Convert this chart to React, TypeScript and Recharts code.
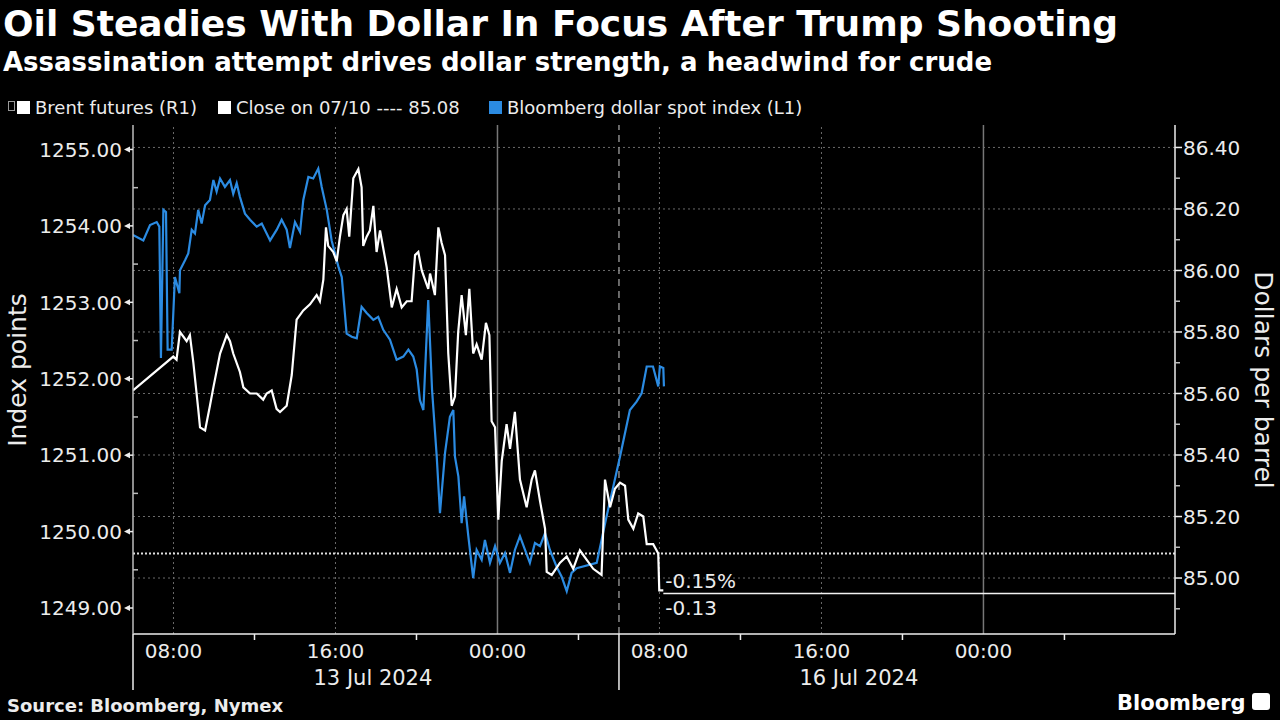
import React from "react";
import { LineChart, Line, XAxis, YAxis, ReferenceLine, ReferenceDot } from "recharts";

// hours counted from 06:00 on the first day shown
const dollarHours = [
  0, 0.51, 0.84, 1.17, 1.3, 1.38, 1.5, 1.63, 1.71, 1.91, 2.07, 2.29, 2.32, 2.57,
  2.73, 2.9, 3.06, 3.22, 3.39, 3.56, 3.8, 3.97, 4.13, 4.3, 4.54, 4.79, 4.95, 5.12,
  5.28, 5.53, 5.78, 6.11, 6.36, 6.77, 7.1, 7.34, 7.59, 7.75, 8.0, 8.25, 8.41,
  8.66, 8.9, 9.15, 9.32, 9.57, 9.81, 10.14, 10.31, 10.55, 10.8, 11.05, 11.29,
  11.54, 11.87, 12.11, 12.36, 12.69, 13.02, 13.35, 13.6, 13.84, 14.01, 14.17,
  14.34, 14.58, 14.77, 15.0, 15.16, 15.41, 15.65, 15.82, 15.9, 16.07, 16.23,
  16.35, 16.56, 16.8, 16.97, 17.22, 17.38, 17.63, 17.88, 18.12, 18.37, 18.62,
  18.86, 19.11, 19.36, 19.6, 19.85, 20.1, 20.35, 20.59, 20.92, 21.17, 21.42,
  21.66, 21.91, 22.9, 23.39, 24.05, 24.54, 24.87, 25.12, 25.37, 25.68, 25.94,
  26.02, 26.19, 26.22,
];
const dollarValues = [
  1253.88, 1253.81, 1254.01, 1254.05, 1253.99, 1252.27, 1254.21, 1254.18,
  1252.38, 1252.38, 1253.33, 1253.12, 1253.42, 1253.55, 1253.64, 1253.95,
  1253.9, 1254.21, 1254.03, 1254.27, 1254.34, 1254.6, 1254.45, 1254.62,
  1254.51, 1254.6, 1254.42, 1254.56, 1254.38, 1254.16, 1254.08, 1253.99,
  1254.03, 1253.81, 1253.95, 1254.08, 1253.95, 1253.71, 1254.05, 1253.92,
  1254.34, 1254.64, 1254.62, 1254.75, 1254.51, 1254.21, 1253.81, 1253.47,
  1253.33, 1252.59, 1252.55, 1252.53, 1252.94, 1252.86, 1252.77, 1252.81,
  1252.64, 1252.51, 1252.25, 1252.29, 1252.38, 1252.29, 1252.12, 1251.72,
  1251.59, 1253.03, 1251.85, 1250.98, 1250.24, 1251.03, 1251.5, 1251.59,
  1250.98, 1250.72, 1250.11, 1250.46, 1249.94, 1249.39, 1249.76, 1249.63,
  1249.89, 1249.59, 1249.81, 1249.59, 1249.72, 1249.46, 1249.76, 1249.94,
  1249.76, 1249.59, 1249.85, 1249.81, 1249.98, 1249.76, 1249.54, 1249.41,
  1249.22, 1249.46, 1249.52, 1249.59, 1250.2, 1250.98, 1251.59, 1251.7,
  1251.81, 1252.16, 1252.16, 1251.9, 1252.16, 1252.14, 1251.9,
];

const brentHours = [
  0, 1.99, 2.15, 2.32, 2.65, 2.81, 2.98, 3.22, 3.31, 3.56, 3.8, 3.97, 4.3, 4.63,
  4.79, 4.95, 5.28, 5.45, 5.78, 6.11, 6.43, 6.6, 6.85, 7.09, 7.26, 7.59, 7.84,
  8.08, 8.41, 8.74, 9.07, 9.23, 9.4, 9.53, 9.64, 9.89, 10.06, 10.22, 10.39,
  10.55, 10.68, 10.88, 11.13, 11.29, 11.37, 11.54, 11.7, 11.87, 12.03, 12.2,
  12.53, 12.78, 13.02, 13.27, 13.52, 13.76, 13.93, 14.09, 14.26, 14.58, 14.67,
  14.91, 15.08, 15.24, 15.41, 15.57, 15.74, 15.9, 16.06, 16.23, 16.44, 16.61,
  16.8, 16.97, 17.22, 17.43, 17.6, 17.71, 17.88, 18.04, 18.21, 18.45, 18.62,
  18.86, 19.11, 19.44, 19.69, 19.85, 20.1, 20.35, 20.43, 20.68, 21.09, 21.42,
  21.74, 22.07, 22.4, 22.73, 23.14, 23.31, 23.56, 23.8, 24.05, 24.3, 24.46,
  24.71, 24.95, 25.2, 25.37, 25.69, 25.94, 25.99, 26.19,
];
const brentValues = [
  85.61, 85.72, 85.71, 85.8, 85.77, 85.79, 85.7, 85.55, 85.49, 85.48, 85.56,
  85.62, 85.73, 85.79, 85.77, 85.73, 85.67, 85.62, 85.6, 85.6, 85.58, 85.6,
  85.61, 85.55, 85.54, 85.56, 85.66, 85.84, 85.87, 85.89, 85.92, 85.9, 85.97,
  86.14, 86.08, 86.06, 86.03, 86.11, 86.18, 86.2, 86.11, 86.3, 86.33, 86.27,
  86.08, 86.11, 86.13, 86.21, 86.06, 86.13, 86.01, 85.88, 85.94, 85.88, 85.9,
  85.9, 86.05, 86.06, 86.0, 85.94, 85.99, 85.92, 86.14, 86.09, 86.05, 85.73,
  85.56, 85.59, 85.8, 85.92, 85.79, 85.94, 85.73, 85.76, 85.71, 85.83, 85.79,
  85.51, 85.49, 85.19, 85.38, 85.5, 85.42, 85.54, 85.32, 85.23, 85.32, 85.35,
  85.25, 85.16, 85.02, 85.01, 85.05, 85.07, 85.03, 85.09, 85.06, 85.03, 85.01,
  85.32, 85.23, 85.29, 85.31, 85.3, 85.19, 85.16, 85.21, 85.2, 85.11, 85.11,
  85.08, 84.96, 84.96,
];

const closeLevel = 85.08;
const brentLast = 84.95;
const brentLastHour = 26.19;
const lastPct = "-0.15%";
const lastChange = "-0.13";
const xMax = 51.46;

const leftTicks = [
  1249, 1249.5, 1250, 1250.5, 1251, 1251.5, 1252, 1252.5, 1253, 1253.5, 1254,
  1254.5, 1255,
];
const rightTicks = [
  84.9, 85.0, 85.1, 85.2, 85.3, 85.4, 85.5, 85.6, 85.7, 85.8, 85.9, 86.0, 86.1,
  86.2, 86.3, 86.4,
];
const gridLevels = [85.0, 85.2, 85.4, 85.6, 85.8, 86.0, 86.2, 86.4];

const timeTickHours = [2, 10, 18, 26, 34, 42];
const timeTickLabels = ["08:00", "16:00", "00:00", "08:00", "16:00", "00:00"];
const minorTickHours = [6, 14, 22, 30, 38, 46];
const dateTickHours = [10, 34];
const dateLabels = ["13 Jul 2024", "16 Jul 2024"];
const separatorHours = [0, 24];
const dottedHours = [2, 10, 26, 34];
const midnightHours = [18, 42];
const breakHour = 24;

const dollarData = dollarHours.map((h, i) => ({ h, v: dollarValues[i] }));
const brentData = brentHours.map((h, i) => ({ h, v: brentValues[i] }));
const xTicks = [...separatorHours, ...timeTickHours, ...minorTickHours].sort((a, b) => a - b);

const FONT = "'DejaVu Sans', 'Noto Sans', sans-serif";
const TEXT = "#ececec";
const BLUE = "#2b8be2";

function LeftTick({ x, y, payload }: any) {
  const v = payload.value;
  if (Math.abs(v - Math.round(v)) > 0.01) {
    return <line x1={x} x2={x + 5} y1={y} y2={y} stroke="#bdbdbd" strokeWidth={1.5} />;
  }
  return (
    <g>
      <path d={`M${x - 9} ${y} L${x - 3} ${y - 3} L${x - 3} ${y + 3} Z`} fill={TEXT} />
      <line x1={x - 4} x2={x} y1={y} y2={y} stroke={TEXT} strokeWidth={1.5} />
      <text x={x - 11} y={y} dy="0.36em" textAnchor="end" fill={TEXT} fontSize={20} fontFamily={FONT}>
        {v.toFixed(2)}
      </text>
    </g>
  );
}

function RightTick({ x, y, payload }: any) {
  const v = payload.value;
  const major = Math.round(v * 10) % 2 === 0;
  if (!major) {
    return <line x1={x} x2={x + 5} y1={y} y2={y} stroke="#bdbdbd" strokeWidth={1.5} />;
  }
  return (
    <g>
      <line x1={x} x2={x + 7} y1={y} y2={y} stroke={TEXT} strokeWidth={1.5} />
      <text x={x + 8} y={y} dy="0.36em" textAnchor="start" fill={TEXT} fontSize={20} fontFamily={FONT}>
        {v.toFixed(2)}
      </text>
    </g>
  );
}

function TimeTick({ x, y, payload }: any) {
  const h = payload.value;
  const ti = timeTickHours.indexOf(h);
  const di = dateTickHours.indexOf(h);
  if (separatorHours.includes(h)) {
    return <line x1={x} x2={x} y1={y} y2={y + 56} stroke={TEXT} strokeWidth={1.5} />;
  }
  if (ti < 0) {
    return <line x1={x} x2={x} y1={y} y2={y + 6} stroke={TEXT} strokeWidth={1.5} />;
  }
  return (
    <g>
      <text x={x} y={y + 17} dy="0.36em" textAnchor="middle" fill={TEXT} fontSize={20} fontFamily={FONT}>
        {timeTickLabels[ti]}
      </text>
      {di >= 0 && (
        <text x={x - 22} y={y + 43} dy="0.36em" textAnchor="start" fill={TEXT} fontSize={21} fontFamily={FONT}>
          {dateLabels[di]}
        </text>
      )}
    </g>
  );
}

function LastLabel({ cx, cy }: any) {
  return (
    <g>
      <text x={cx + 2} y={cy - 13} dy="0.36em" fill={TEXT} fontSize={20} fontFamily={FONT}>
        {lastPct}
      </text>
      <text x={cx + 2} y={cy + 14} dy="0.36em" fill={TEXT} fontSize={20} fontFamily={FONT}>
        {lastChange}
      </text>
    </g>
  );
}

function LegendItem({ left, color, label }: { left: number; color: string; label: string }) {
  return (
    <div
      style={{
        position: "absolute",
        left,
        top: 96,
        display: "flex",
        alignItems: "center",
        gap: 5,
        height: 22,
      }}
    >
      <span style={{ width: 13, height: 13, background: color, display: "inline-block" }} />
      <span style={{ color: TEXT, fontSize: 18, fontFamily: FONT, whiteSpace: "nowrap" }}>{label}</span>
    </div>
  );
}

export default function App() {
  return (
    <div
      style={{
        position: "fixed",
        left: 0,
        top: 0,
        width: 1280,
        height: 720,
        background: "#000",
        overflow: "hidden",
        fontFamily: FONT,
      }}
    >
      <div
        style={{
          position: "absolute",
          left: 3,
          top: 4,
          fontSize: 36,
          fontWeight: 700,
          color: "#fff",
          lineHeight: "40px",
          whiteSpace: "nowrap",
        }}
      >
        Oil Steadies With Dollar In Focus After Trump Shooting
      </div>
      <div
        style={{
          position: "absolute",
          left: 3,
          top: 46,
          fontSize: 26,
          fontWeight: 700,
          color: "#fff",
          lineHeight: "32px",
          whiteSpace: "nowrap",
        }}
      >
        Assassination attempt drives dollar strength, a headwind for crude
      </div>

      <span
        style={{
          position: "absolute",
          left: 8,
          top: 101,
          width: 5,
          height: 8,
          border: "1px solid #999",
        }}
      />
      <LegendItem left={17} color="#fff" label="Brent futures (R1)" />
      <LegendItem left={218} color="#fff" label="Close on 07/10 ---- 85.08" />
      <LegendItem left={489} color={BLUE} label="Bloomberg dollar spot index (L1)" />

      <div
        style={{
          position: "absolute",
          left: 17,
          top: 370,
          transform: "translate(-50%, -50%) rotate(-90deg)",
          color: TEXT,
          fontSize: 25,
          whiteSpace: "nowrap",
        }}
      >
        Index points
      </div>
      <div
        style={{
          position: "absolute",
          left: 1263,
          top: 380,
          transform: "translate(-50%, -50%) rotate(90deg)",
          color: TEXT,
          fontSize: 25,
          whiteSpace: "nowrap",
        }}
      >
        Dollars per barrel
      </div>

      <div style={{ position: "absolute", left: 0, top: 0 }}>
        <LineChart width={1280} height={720} margin={{ top: 125, right: 0, left: 0, bottom: 0 }}>
          <XAxis
            type="number"
            dataKey="h"
            domain={[0, xMax]}
            ticks={xTicks}
            interval={0}
            height={86}
            tickSize={0}
            tickMargin={0}
            tickLine={false}
            tick={<TimeTick />}
            axisLine={{ stroke: TEXT, strokeWidth: 1.5 }}
            allowDataOverflow
          />
          <YAxis
            yAxisId="left"
            orientation="left"
            domain={[1248.66, 1255.32]}
            ticks={leftTicks}
            interval={0}
            width={133}
            tickSize={0}
            tickMargin={0}
            tickLine={false}
            tick={<LeftTick />}
            axisLine={{ stroke: "#bdbdbd", strokeWidth: 1.5 }}
            allowDataOverflow
          />
          <YAxis
            yAxisId="right"
            orientation="right"
            domain={[84.818, 86.473]}
            ticks={rightTicks}
            interval={0}
            width={105}
            tickSize={0}
            tickMargin={0}
            tickLine={false}
            tick={<RightTick />}
            axisLine={{ stroke: TEXT, strokeWidth: 1.5 }}
            allowDataOverflow
          />

          {gridLevels.map((g) => (
            <ReferenceLine
              key={`g${g}`}
              yAxisId="right"
              y={g}
              stroke="#6a6a6a"
              strokeDasharray="2 3"
              strokeWidth={1}
            />
          ))}
          {dottedHours.map((h) => (
            <ReferenceLine
              key={`d${h}`}
              yAxisId="left"
              x={h}
              stroke="#6a6a6a"
              strokeDasharray="2 3"
              strokeWidth={1}
            />
          ))}
          {midnightHours.map((h) => (
            <ReferenceLine key={`m${h}`} yAxisId="left" x={h} stroke="#777" strokeWidth={1.5} />
          ))}
          <ReferenceLine yAxisId="left" x={breakHour} stroke="#8a8a8a" strokeDasharray="7 5" strokeWidth={1.5} />
          <ReferenceLine yAxisId="right" y={closeLevel} stroke="#e0e0e0" strokeDasharray="2 2" strokeWidth={2} />
          <ReferenceLine
            yAxisId="right"
            segment={[
              { x: brentLastHour, y: brentLast },
              { x: xMax, y: brentLast },
            ]}
            stroke="#f2f2f2"
            strokeWidth={1.5}
          />

          <Line
            yAxisId="left"
            data={dollarData}
            dataKey="v"
            type="linear"
            stroke={BLUE}
            strokeWidth={2.2}
            dot={false}
            isAnimationActive={false}
          />
          <Line
            yAxisId="right"
            data={brentData}
            dataKey="v"
            type="linear"
            stroke="#ffffff"
            strokeWidth={2.2}
            dot={false}
            isAnimationActive={false}
          />
          <ReferenceDot
            yAxisId="right"
            x={brentLastHour}
            y={brentLast}
            r={0}
            shape={(p: any) => <LastLabel cx={p.cx} cy={p.cy} />}
          />
        </LineChart>
      </div>

      <div
        style={{
          position: "absolute",
          left: 7,
          top: 694,
          fontSize: 18,
          fontWeight: 700,
          color: TEXT,
          lineHeight: "24px",
          whiteSpace: "nowrap",
        }}
      >
        Source: Bloomberg, Nymex
      </div>
      <div
        style={{
          position: "absolute",
          left: 1117,
          top: 689,
          fontSize: 21,
          fontWeight: 700,
          color: "#fff",
          lineHeight: "28px",
          whiteSpace: "nowrap",
        }}
      >
        Bloomberg
      </div>
      <div
        style={{
          position: "absolute",
          left: 1252,
          top: 693,
          width: 18,
          height: 17,
          borderRadius: 3,
          background: "#fff",
        }}
      />
    </div>
  );
}
